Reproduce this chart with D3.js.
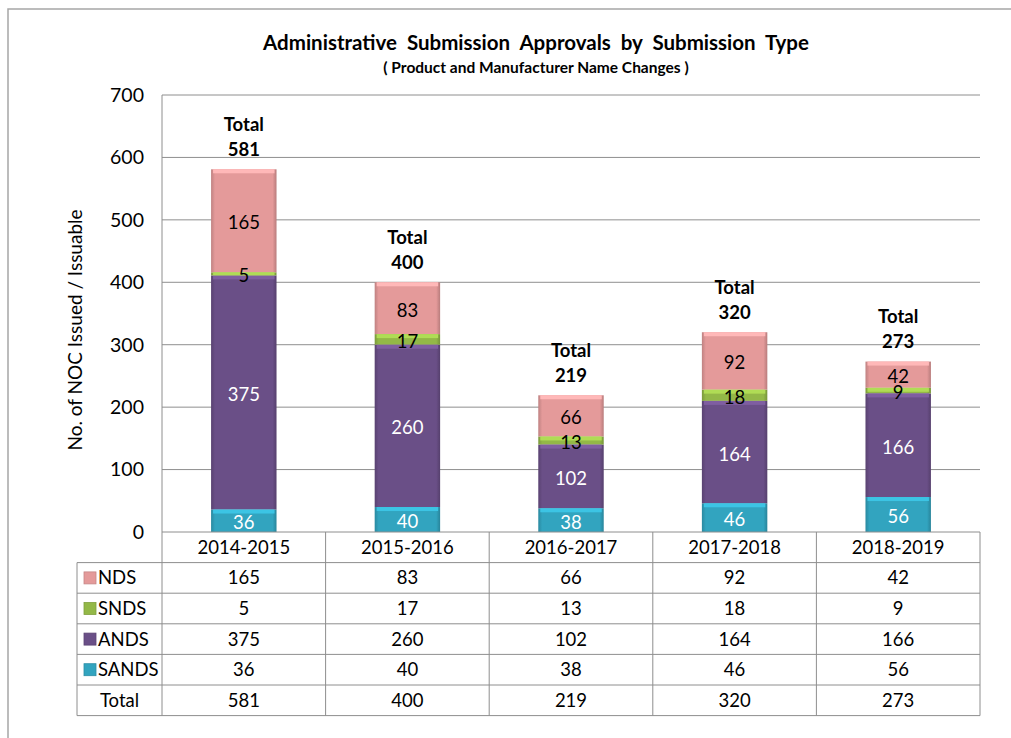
<!DOCTYPE html>
<html lang="en">
<head>
<meta charset="UTF-8">
<script src="https://cdn.jsdelivr.net/npm/d3@7"></script>
<title>Administrative Submission Approvals</title>
<style>
    body { margin: 0; background: white; }
    svg text { font-family: Lato, "Open Sans", sans-serif; }
</style>
</head>
<body>
<script>
    // ---------------- data ----------------
    const years = ["2014-2015", "2015-2016", "2016-2017", "2017-2018", "2018-2019"];
    const seriesNames = ["SANDS", "ANDS", "SNDS", "NDS"];   // bottom to top
    const SANDS = [36, 40, 38, 46, 56];
    const ANDS = [375, 260, 102, 164, 166];
    const SNDS = [5, 17, 13, 18, 9];
    const NDS = [165, 83, 66, 92, 42];
    const totals = [581, 400, 219, 320, 273];
    const yTicks = [0, 100, 200, 300, 400, 500, 600, 700];

    const colors = { NDS: "#e49a9a", SNDS: "#93b847", ANDS: "#6a4f87", SANDS: "#32a4bf" };
    const labelColors = { NDS: "#000", SNDS: "#000", ANDS: "#fff", SANDS: "#fff" };

    // table rows, top to bottom
    const tableRows = ["NDS", "SNDS", "ANDS", "SANDS"];

    const width = 1011, height = 738;
    const plot = { left: 162, right: 980, top: 95, bottom: 532 };
    const rowH = 30.6;
    const fs = 18.5;   // general label size

    const svg = d3.select("body").append("svg")
        .attr("width", width)
        .attr("height", height);

    // outer frame
    svg.append("path")
        .attr("d", `M8,${height} L8,9 L${width},9`)
        .attr("fill", "none")
        .attr("stroke", "#a6a6a6")
        .attr("stroke-width", 1.5);

    // ---------------- scales ----------------
    const x = d3.scaleBand()
        .domain(years)
        .range([plot.left, plot.right])
        .paddingInner(0.6)
        .paddingOuter(0.3);

    const y = d3.scaleLinear()
        .domain([0, 700])
        .range([plot.bottom, plot.top]);

    // gridlines
    svg.append("g")
        .selectAll("line")
        .data(yTicks.slice(1))
        .join("line")
        .attr("x1", plot.left)
        .attr("x2", plot.right)
        .attr("y1", d => y(d))
        .attr("y2", d => y(d))
        .attr("stroke", "#8e8e8e")
        .attr("stroke-width", 1);

    // left axis line
    svg.append("line")
        .attr("x1", plot.left).attr("x2", plot.left)
        .attr("y1", plot.top).attr("y2", plot.bottom)
        .attr("stroke", "#8e8e8e");

    // y tick labels
    svg.append("g")
        .selectAll("text")
        .data(yTicks)
        .join("text")
        .attr("x", 144)
        .attr("y", d => y(d))
        .attr("dy", "0.35em")
        .attr("text-anchor", "end")
        .attr("font-size", 19.5)
        .text(d => d);

    // y axis title
    svg.append("text")
        .attr("transform", `translate(82,330) rotate(-90)`)
        .attr("text-anchor", "middle")
        .attr("font-size", 19)
        .text("No. of NOC Issued / Issuable");

    // title
    svg.append("text")
        .attr("x", 536).attr("y", 50)
        .attr("text-anchor", "middle")
        .attr("font-size", 20.5)
        .attr("font-weight", "bold")
        .attr("word-spacing", 5)
        .text("Administrative Submission Approvals by Submission Type");
    svg.append("text")
        .attr("x", 536).attr("y", 73)
        .attr("text-anchor", "middle")
        .attr("font-size", 15.5)
        .attr("font-weight", "bold")
        .text("( Product and Manufacturer Name Changes )");

    // ---------------- gradients for bevelled look ----------------
    const defs = svg.append("defs");
    seriesNames.forEach(name => {
        const base = d3.color(colors[name]);
        const g = defs.append("linearGradient")
            .attr("id", "grad-" + name)
            .attr("x1", 0).attr("x2", 1).attr("y1", 0).attr("y2", 0);
        g.append("stop").attr("offset", "0%").attr("stop-color", base.darker(0.5));
        g.append("stop").attr("offset", "6%").attr("stop-color", base);
        g.append("stop").attr("offset", "94%").attr("stop-color", base);
        g.append("stop").attr("offset", "100%").attr("stop-color", base.darker(0.6));
    });

    // ---------------- stacked bars ----------------
    const table = years.map((yr, i) => ({ year: yr, SANDS: SANDS[i], ANDS: ANDS[i], SNDS: SNDS[i], NDS: NDS[i] }));
    const stacked = d3.stack().keys(seriesNames)(table);
    const segments = stacked.flatMap(layer => layer.map(v => ({ key: layer.key, v })));

    const bars = svg.append("g");

    bars.selectAll("rect.seg")
        .data(segments)
        .join("rect")
        .attr("class", "seg")
        .attr("x", d => x(d.v.data.year))
        .attr("width", x.bandwidth())
        .attr("y", d => y(d.v[1]))
        .attr("height", d => y(d.v[0]) - y(d.v[1]))
        .attr("fill", d => `url(#grad-${d.key})`);

    // top highlight strip of each segment
    bars.selectAll("rect.hi")
        .data(segments)
        .join("rect")
        .attr("class", "hi")
        .attr("x", d => x(d.v.data.year) + 2)
        .attr("width", x.bandwidth() - 4)
        .attr("y", d => y(d.v[1]))
        .attr("height", d => Math.min(4, y(d.v[0]) - y(d.v[1])))
        .attr("fill", d => d3.color(colors[d.key]).brighter(0.5));

    // segment value labels, on top of all bars
    svg.append("g")
        .selectAll("text")
        .data(segments)
        .join("text")
        .attr("x", d => x(d.v.data.year) + x.bandwidth() / 2)
        .attr("y", d => (y(d.v[0]) + y(d.v[1])) / 2 + 2)
        .attr("dy", "0.35em")
        .attr("text-anchor", "middle")
        .attr("font-size", fs)
        .attr("fill", d => labelColors[d.key])
        .text(d => d.v[1] - d.v[0]);

    // total labels
    const totalG = svg.append("g")
        .selectAll("g")
        .data(years)
        .join("g")
        .attr("font-weight", "bold")
        .attr("font-size", 18.5)
        .attr("text-anchor", "middle");
    totalG.append("text")
        .attr("x", d => x(d) + x.bandwidth() / 2)
        .attr("y", (d, i) => y(totals[i]) - 45)
        .attr("dy", "0.35em")
        .text("Total");
    totalG.append("text")
        .attr("x", d => x(d) + x.bandwidth() / 2)
        .attr("y", (d, i) => y(totals[i]) - 20)
        .attr("dy", "0.35em")
        .text((d, i) => totals[i]);

    // ---------------- data table ----------------
    const tbl = svg.append("g");
    const lineColor = "#8e8e8e";
    const step = x.step();
    const colX = years.map((yr, i) => plot.left + i * step);
    const tableLeft = 77;
    const nRows = tableRows.length + 1;    // + Total
    const tableBottom = plot.bottom + rowH * (nRows + 1);

    // vertical lines
    colX.concat([plot.right]).forEach(cx => {
        tbl.append("line")
            .attr("x1", cx).attr("x2", cx)
            .attr("y1", plot.bottom).attr("y2", tableBottom)
            .attr("stroke", lineColor);
    });
    tbl.append("line")
        .attr("x1", tableLeft).attr("x2", tableLeft)
        .attr("y1", plot.bottom + rowH).attr("y2", tableBottom)
        .attr("stroke", lineColor);
    // horizontal lines
    tbl.append("line")
        .attr("x1", plot.left).attr("x2", plot.right)
        .attr("y1", plot.bottom).attr("y2", plot.bottom)
        .attr("stroke", lineColor);
    d3.range(1, nRows + 2).forEach(r => {
        tbl.append("line")
            .attr("x1", tableLeft).attr("x2", plot.right)
            .attr("y1", plot.bottom + r * rowH).attr("y2", plot.bottom + r * rowH)
            .attr("stroke", lineColor);
    });

    // header labels
    tbl.selectAll("text.hdr")
        .data(years)
        .join("text")
        .attr("class", "hdr")
        .attr("x", d => x(d) + x.bandwidth() / 2)
        .attr("y", plot.bottom + rowH / 2)
        .attr("dy", "0.35em")
        .attr("text-anchor", "middle")
        .attr("font-size", fs)
        .text(d => d);

    const rowValues = { NDS, SNDS, ANDS, SANDS, Total: totals };
    tableRows.concat(["Total"]).forEach((name, r) => {
        const cy = plot.bottom + rowH * (r + 1) + rowH / 2;
        if (name === "Total") {
            tbl.append("text")
                .attr("x", (tableLeft + plot.left) / 2)
                .attr("y", cy).attr("dy", "0.35em")
                .attr("text-anchor", "middle")
                .attr("font-size", fs)
                .text("Total");
        } else {
            const base = d3.color(colors[name]);
            tbl.append("rect")
                .attr("x", 84).attr("y", cy - 6)
                .attr("width", 12).attr("height", 12)
                .attr("fill", base)
                .attr("stroke", base.darker(0.4))
                .attr("stroke-width", 0.8);
            tbl.append("text")
                .attr("x", 98)
                .attr("y", cy).attr("dy", "0.35em")
                .attr("font-size", fs)
                .text(name);
        }
        tbl.selectAll(null)
            .data(rowValues[name])
            .join("text")
            .attr("x", (d, i) => x(years[i]) + x.bandwidth() / 2)
            .attr("y", cy).attr("dy", "0.35em")
            .attr("text-anchor", "middle")
            .attr("font-size", fs)
            .text(d => d);
    });
</script>
</body>
</html>
